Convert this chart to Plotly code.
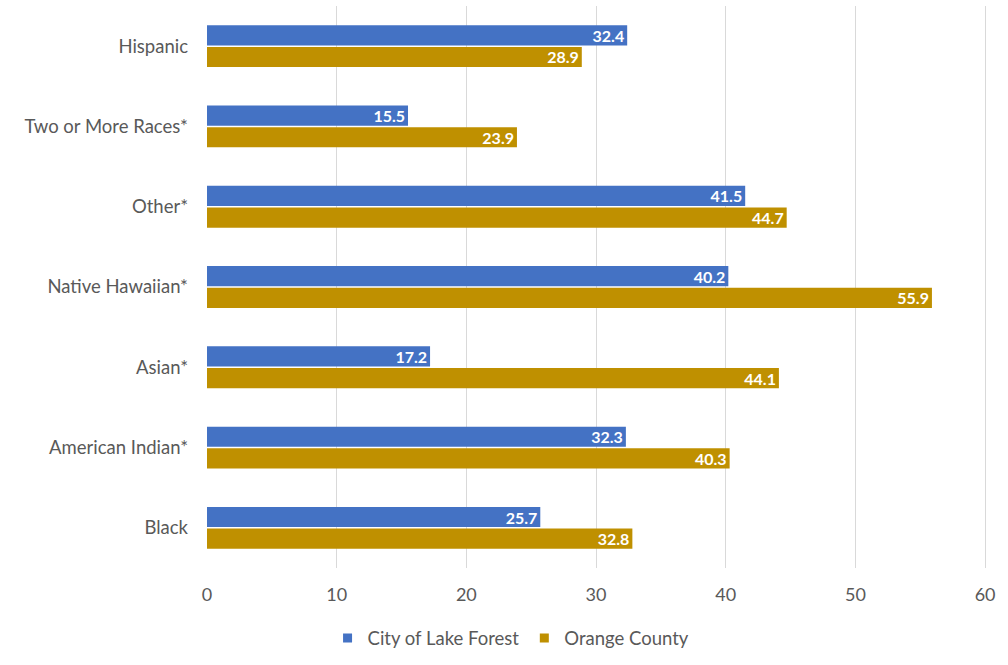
import plotly.graph_objects as go

categories = ["Hispanic", "Two or More Races*", "Other*", "Native Hawaiian*", "Asian*", "American Indian*", "Black"]
lake_forest = [32.4, 15.5, 41.5, 40.2, 17.2, 32.3, 25.7]
orange_county = [28.9, 23.9, 44.7, 55.9, 44.1, 40.3, 32.8]
x_ticks = [0, 10, 20, 30, 40, 50, 60]
series_names = ["City of Lake Forest", "Orange County"]
series_colors = ["#4472C4", "#BF9000"]

FONT = "Lato"
fig = go.Figure()
for name, vals, color in zip(series_names, [lake_forest, orange_county], series_colors):
    fig.add_trace(go.Bar(
        y=categories, x=vals, orientation="h", name=name, showlegend=False,
        marker=dict(color=color, line=dict(width=0)),
        text=[f"{v:.1f}" for v in vals], textposition="inside", insidetextanchor="end",
        constraintext="none", cliponaxis=False,
        textfont=dict(color="white", size=16, family=FONT, weight="bold"),
    ))
# legend entries with small square markers
for name, color in zip(series_names, series_colors):
    fig.add_trace(go.Scatter(
        x=[None], y=[None], mode="markers", name=name,
        marker=dict(symbol="square", size=9, color=color),
    ))

fig.update_layout(
    width=1008, height=665,
    margin=dict(l=207, r=19, t=6, b=97),
    paper_bgcolor="white", plot_bgcolor="white",
    barmode="group", bargap=0.46, bargroupgap=0.07,
    font=dict(family=FONT, size=18.5, color="#595959"),
    xaxis=dict(range=[0, 60.3], tickvals=x_ticks, showgrid=True, gridcolor="#D9D9D9", gridwidth=1,
               zeroline=False, showline=False, ticks="", ticklabelstandoff=14,
               tickfont=dict(size=18, color="#595959")),
    yaxis=dict(autorange="reversed", showgrid=False, ticks="", ticklabelstandoff=18,
               tickfont=dict(size=18.5, color="#595959"), showline=False),
    legend=dict(orientation="h", xref="container", yref="container", x=0.507, y=0.04,
                xanchor="center", yanchor="middle", font=dict(size=18.5, color="#595959"),
                traceorder="normal"),
)
fig.write_html("out.html", config={"displayModeBar": False},
               post_script="document.body.style.margin='0px';")
